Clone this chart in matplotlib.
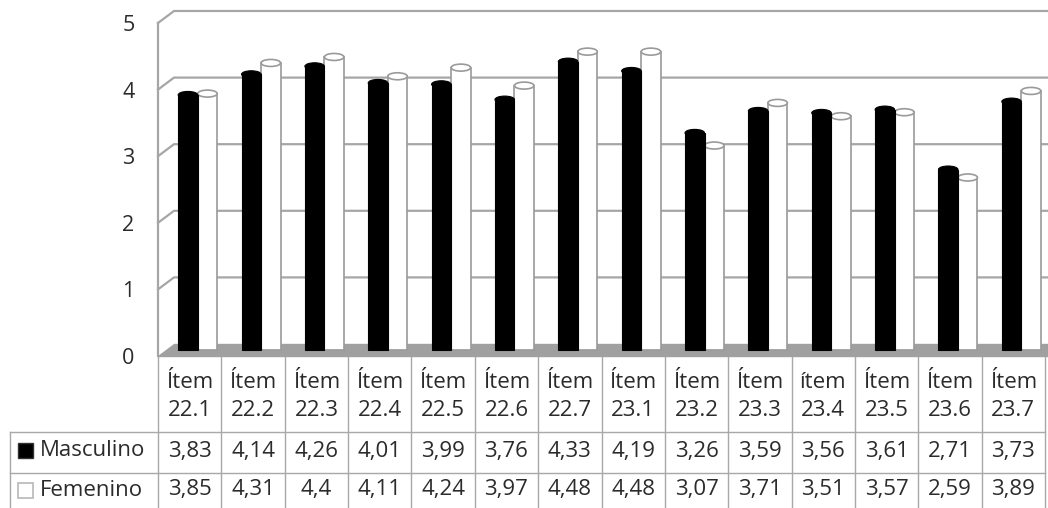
import numpy as np
import matplotlib
matplotlib.use('Agg')
import matplotlib.pyplot as plt
from matplotlib.patches import Polygon, Rectangle, Ellipse

plt.rcParams['font.family'] = ['Open Sans', 'DejaVu Sans']

items = ['Ítem 22.1', 'Ítem 22.2', 'Ítem 22.3', 'Ítem 22.4', 'Ítem 22.5', 'Ítem 22.6', 'Ítem 22.7',
         'Ítem 23.1', 'Ítem 23.2', 'Ítem 23.3', 'ítem 23.4', 'Ítem 23.5', 'Ítem 23.6', 'Ítem 23.7']
masculino = [3.83, 4.14, 4.26, 4.01, 3.99, 3.76, 4.33, 4.19, 3.26, 3.59, 3.56, 3.61, 2.71, 3.73]
femenino = [3.85, 4.31, 4.4, 4.11, 4.24, 3.97, 4.48, 4.48, 3.07, 3.71, 3.51, 3.57, 2.59, 3.89]
series = ['Masculino', 'Femenino']
yticks = [0, 1, 2, 3, 4, 5]

W, H = 1048, 508
x0, x1 = 158, 1045      # front plane / table columns (pixels)
y5, y0 = 23, 356        # front plane value 5 and 0 (pixels)
n = len(items)
colw = (x1 - x0) / n
unit = (y0 - y5) / 5
ddx = 16 / colw          # depth offset in data units
ddy = 12 / unit
w = 19.5 / colw
grid = '#a6a6a6'
txt = '#2b2b2b'
fs = 16

fig = plt.figure(figsize=(W / 100, H / 100), dpi=100)
ax = fig.add_axes([x0 / W, 1 - y0 / H, (x1 - x0) / W, (y0 - y5) / H])
ax.set_xlim(-0.5, n - 0.5)
ax.set_ylim(0, 5)
ax.set_frame_on(False)
ax.set_xticks([])
ax.set_yticks(yticks)
ax.tick_params(axis='y', length=0, pad=17, labelsize=15.5, labelcolor=txt)

# walls and gridlines
for v in yticks[1:]:
    ax.plot([-0.5, -0.5 + ddx, n + 1], [v, v + ddy, v + ddy], color=grid, lw=1.6,
            clip_on=False, zorder=1, solid_joinstyle='miter')
ax.plot([-0.5, -0.5], [0, 5], color=grid, lw=1.6, clip_on=False, zorder=1)
ax.add_patch(Polygon([(-0.5, 0), (n + 1, 0), (n + 1, ddy), (-0.5 + ddx, ddy)],
                     closed=True, facecolor='#a0a0a0', edgecolor='#a0a0a0',
                     clip_on=False, zorder=2))

# bars
idx = np.arange(n)
cx = idx + ddx / 2
capH = 7 / unit
for i in range(n):
    xf = cx[i] + w / 2
    ax.bar(xf, femenino[i], width=w, bottom=ddy / 2, color='white', edgecolor='#9a9a9a',
           lw=1.2, zorder=3)
    ax.add_patch(Ellipse((xf, femenino[i] + ddy / 2), w, capH, facecolor='white',
                         edgecolor='#9a9a9a', lw=1.2, zorder=3.1))
    xm = cx[i] - w / 2
    ax.bar(xm, masculino[i], width=w, bottom=ddy / 2, color='black', edgecolor='black',
           lw=0.8, zorder=3.5)
    ax.add_patch(Ellipse((xm, masculino[i] + ddy / 2), w, capH, facecolor='black',
                         edgecolor='black', lw=0.8, zorder=3.6))

# data table
tb = fig.add_axes([0, 0, 1, 1])
tb.set_xlim(0, W)
tb.set_ylim(H, 0)
tb.axis('off')
lc = '#a8a8a8'
r0, r1, r2, r3 = y0 + 1, 432, 473, 512
for k in range(n + 1):
    xe = x0 + k * colw
    tb.plot([xe, xe], [r0, r3], color=lc, lw=1.0)
tb.plot([10, 10], [r1, r3], color=lc, lw=1.0)
tb.plot([10, x1], [r1, r1], color=lc, lw=1.0)
tb.plot([10, x1], [r2, r2], color=lc, lw=1.0)

fmt = lambda v: ('%g' % v).replace('.', ',')
for i in range(n):
    xc = x0 + (i + 0.5) * colw
    a, b = items[i].split(' ')
    tb.text(xc, 382, a, ha='center', va='center', fontsize=fs, color=txt)
    tb.text(xc, 411, b, ha='center', va='center', fontsize=fs, color=txt)
    tb.text(xc, 451, fmt(masculino[i]), ha='center', va='center', fontsize=fs, color=txt)
    tb.text(xc, 490, fmt(femenino[i]), ha='center', va='center', fontsize=fs, color=txt)

# legend keys in row headers
tb.add_patch(Rectangle((18, 443), 15, 15, facecolor='black', edgecolor='#333333', lw=1))
tb.add_patch(Rectangle((18, 483), 15, 15, facecolor='white', edgecolor='#b8b8b8', lw=1.2))
tb.text(40, 451, series[0], ha='left', va='center', fontsize=fs, color=txt)
tb.text(40, 490, series[1], ha='left', va='center', fontsize=fs, color=txt)

fig.savefig('out.png', dpi=100)
